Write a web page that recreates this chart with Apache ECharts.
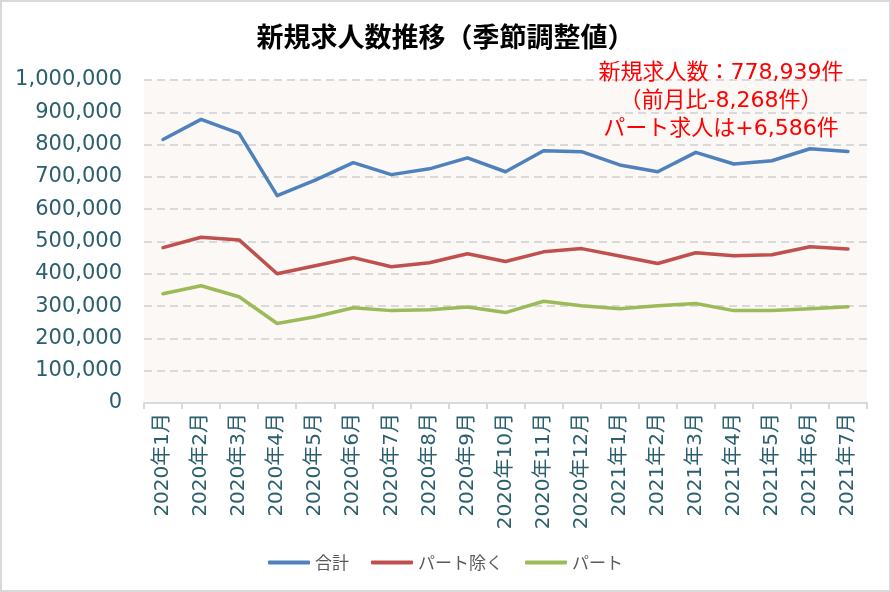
<!DOCTYPE html>
<html><head><meta charset="utf-8">
<script src="https://cdn.jsdelivr.net/npm/echarts@6/dist/echarts.min.js"></script>
<style>html,body{margin:0;padding:0;background:#fff}#c{width:891px;height:592px}</style>
</head><body><div id="c"></div>
<script>
const categories = ['2020年1月','2020年2月','2020年3月','2020年4月','2020年5月','2020年6月','2020年7月','2020年8月','2020年9月','2020年10月','2020年11月','2020年12月','2021年1月','2021年2月','2021年3月','2021年4月','2021年5月','2021年6月','2021年7月'];
const totalValues = [816000,878000,835000,642000,690000,744000,707000,725000,759000,716000,781000,778000,737000,716000,776000,740000,750000,787207,778939];
const excludingPartValues = [481000,513000,505000,400000,425000,450000,422000,434000,462000,438000,468000,478000,455000,432000,465000,456000,459000,484000,477000];
const partValues = [338000,363000,329000,246000,267000,295000,286000,289000,297000,280000,315000,301000,292000,301000,308000,286000,286000,292000,298000];
const seriesNames = ['合計','パート除く','パート'];
const titleText = '新規求人数推移（季節調整値）';
const noteLines = ['新規求人数：778,939件','（前月比-8,268件）','パート求人は+6,586件'];

const chart = echarts.init(document.getElementById('c'), null, {renderer:'canvas'});
const colors = ['#4F81BD','#C0504D','#9BBB59'];
const mk = (name, data, color) => ({
  name, type:'line', data, symbol:'none', smooth:false,
  lineStyle:{color, width:3.5, cap:'round', join:'round'}, itemStyle:{color}
});
chart.setOption({
  animation:false,
  backgroundColor:'#ffffff',
  title:{text:titleText, left:'center', top:18,
    textStyle:{fontFamily:'"Noto Sans CJK JP"', fontSize:27, fontWeight:'bold', color:'#000'}},
  graphic:[
    {type:'rect', shape:{x:1, y:1, width:889, height:590}, style:{fill:'none', stroke:'#d9d9d9', lineWidth:2}, z:100},
    {type:'text', x:721, y:59, z:100, style:{text:noteLines.join('\n'), align:'center', textAlign:'center',
      fill:'#ff0000', font:'22px "DejaVu Sans", "Noto Sans CJK JP"', lineHeight:28}}
  ],
  legend:{bottom:16, left:'center', itemGap:22, itemWidth:42, itemHeight:4, icon:'roundRect',
    textStyle:{fontFamily:'"Noto Sans CJK JP"', fontSize:17, color:'#595959'},
    data:seriesNames},
  grid:{left:144, right:24, top:80, bottom:189, show:true, backgroundColor:'#FCF8F5', borderWidth:0, containLabel:false},
  xAxis:{type:'category', data:categories, boundaryGap:true,
    axisLine:{lineStyle:{color:'#d9d9d9', width:2}},
    axisTick:{show:true, length:6, lineStyle:{color:'#d9d9d9', width:2}},
    axisLabel:{rotate:90, interval:0, margin:10, color:'#2b5f6e', fontSize:20, fontFamily:'"DejaVu Sans", "Noto Sans CJK JP"'}},
  yAxis:{type:'value', min:0, max:1000000, interval:100000,
    axisLine:{show:false}, axisTick:{show:false},
    splitLine:{lineStyle:{color:'#d9d9d9', width:2, type:[8,5]}},
    axisLabel:{margin:22, color:'#2b5f6e', fontSize:21, fontFamily:'"DejaVu Sans"',
      formatter:v=>v.toLocaleString('en-US')}},
  series:[mk(seriesNames[0], totalValues, colors[0]), mk(seriesNames[1], excludingPartValues, colors[1]), mk(seriesNames[2], partValues, colors[2])]
});
</script></body></html>
